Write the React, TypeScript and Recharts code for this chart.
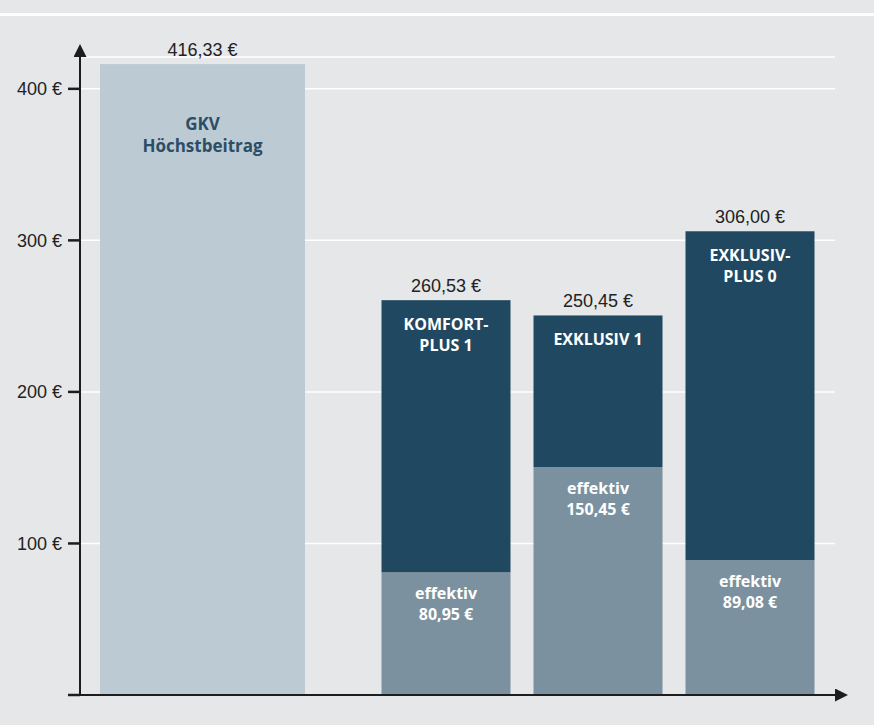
import React from 'react'
import { BarChart, Bar, XAxis, YAxis, CartesianGrid } from 'recharts'

// Kategorien und Werte (Monatsbeiträge in Euro)
const categories = ['GKV Höchstbeitrag', 'KOMFORT-PLUS 1', 'EXKLUSIV 1', 'EXKLUSIV-PLUS 0']
const groups = ['gkv', 'tarif', 'tarif', 'tarif']
const barTitles = [['GKV', 'Höchstbeitrag'], ['KOMFORT-', 'PLUS 1'], ['EXKLUSIV 1'], ['EXKLUSIV-', 'PLUS 0']]
const gkvValues: (number | null)[] = [416.33, null, null, null]
const totalValues: (number | null)[] = [null, 260.53, 250.45, 306.0]
const effektivValues: (number | null)[] = [null, 80.95, 150.45, 89.08]
const yTicks = [0, 100, 200, 300, 400]

const BG = '#e6e7e9'
const GKV_COLOR = '#bccad3'
const EFF_COLOR = '#7b91a0'
const TOP_COLOR = '#214861'
const LABEL_FONT = '"Open Sans", "DejaVu Sans", sans-serif'
const VALUE_FONT = '"Liberation Sans", Arial, sans-serif'

const fmt = (v: number) => v.toFixed(2).replace('.', ',') + ' €'

const chartData = categories.map((name, i) => ({
  name,
  group: groups[i],
  gkv: gkvValues[i],
  eff: effektivValues[i],
  rest: totalValues[i] != null && effektivValues[i] != null ? (totalValues[i] as number) - (effektivValues[i] as number) : null,
}))

const idxOf = (props: any) => categories.indexOf(props.payload?.name)

function GkvShape(props: any) {
  const { x, y, width, height } = props
  const i = idxOf(props)
  if (i < 0 || gkvValues[i] == null || !height) return null
  const cx = x + width / 2
  return (
    <g>
      <rect x={x} y={y} width={width} height={height} fill={GKV_COLOR} />
      <text x={cx} y={y - 8} textAnchor="middle" fontSize={18} fill="#222" fontFamily={VALUE_FONT}>
        {fmt(gkvValues[i] as number)}
      </text>
      {barTitles[i].map((t, k) => (
        <text key={k} x={cx} y={y + 66 + k * 22} textAnchor="middle" fontSize={17} fontWeight={700} fill="#2c4d66" fontFamily={LABEL_FONT}>
          {t}
        </text>
      ))}
    </g>
  )
}

function EffShape(props: any) {
  const { x, y, width, height } = props
  const i = idxOf(props)
  if (i < 0 || effektivValues[i] == null || !height) return null
  const cx = x + width / 2
  return (
    <g>
      <rect x={x} y={y} width={width} height={height} fill={EFF_COLOR} />
      <text x={cx} y={y + 27} textAnchor="middle" fontSize={16} fontWeight={700} fill="#fff" fontFamily={LABEL_FONT}>
        effektiv
      </text>
      <text x={cx} y={y + 48} textAnchor="middle" fontSize={16} fontWeight={700} fill="#fff" fontFamily={LABEL_FONT}>
        {fmt(effektivValues[i] as number)}
      </text>
    </g>
  )
}

function TopShape(props: any) {
  const { x, y, width, height } = props
  const i = idxOf(props)
  if (i < 0 || totalValues[i] == null || !height) return null
  const cx = x + width / 2
  return (
    <g>
      <rect x={x} y={y} width={width} height={height} fill={TOP_COLOR} />
      <text x={cx} y={y - 8} textAnchor="middle" fontSize={18} fill="#222" fontFamily={VALUE_FONT}>
        {fmt(totalValues[i] as number)}
      </text>
      {barTitles[i].map((t, k) => (
        <text key={k} x={cx} y={y + 30 + k * 21} textAnchor="middle" fontSize={16} fontWeight={700} fill="#fff" fontFamily={LABEL_FONT}>
          {t}
        </text>
      ))}
    </g>
  )
}

export default function App() {
  return (
    <div style={{ position: 'absolute', left: 0, top: 0, width: 874, height: 725, background: BG, overflow: 'hidden' }}>
      {/* Pfeilspitzen für die Achsen */}
      <svg width={0} height={0} style={{ position: 'absolute' }}>
        <defs>
          <marker id="arrowHead" viewBox="0 0 10 10" refX={0} refY={5} markerWidth={17} markerHeight={13} markerUnits="userSpaceOnUse" orient="auto-start-reverse">
            <path d="M0,0 L10,5 L0,10 z" fill="#1d1d1d" />
          </marker>
        </defs>
      </svg>
      <div style={{ position: 'absolute', left: 0, top: 13, width: 874, height: 2.5, background: '#fff' }} />
      <div style={{ position: 'absolute', left: 0, top: 0 }}>
        <BarChart
          width={874}
          height={725}
          data={chartData}
          margin={{ top: 57, right: 39, bottom: 0, left: 0 }}
          barCategoryGap={0}
          barGap={0}
        >
          <CartesianGrid xAxisId="b" vertical={false} stroke="#ffffff" strokeWidth={1.5} />
          <XAxis
            xAxisId="a"
            dataKey="group"
            type="category"
            orientation="top"
            allowDuplicatedCategory={false}
            padding={{ left: 20, right: 325 }}
            height={0}
            hide
          />
          <XAxis
            xAxisId="b"
            dataKey="name"
            type="category"
            padding={{ left: 137.5, right: 9.5 }}
            height={30}
            tick={false}
            tickLine={false}
            axisLine={{ stroke: '#1d1d1d', strokeWidth: 2, markerEnd: 'url(#arrowHead)' }}
          />
          <YAxis
            width={80}
            domain={[0, 421]}
            ticks={yTicks}
            interval={0}
            tickSize={12}
            tickMargin={6}
            tickFormatter={(v: number) => (v === 0 ? '' : `${v} €`)}
            tick={{ fontSize: 18, fill: '#222', fontFamily: VALUE_FONT }}
            tickLine={{ stroke: '#1d1d1d', strokeWidth: 2.5 }}
            axisLine={{ stroke: '#1d1d1d', strokeWidth: 2, markerStart: 'url(#arrowHead)' }}
          />
          <Bar xAxisId="a" dataKey="gkv" fill={GKV_COLOR} shape={GkvShape} isAnimationActive={false} />
          <Bar xAxisId="b" dataKey="eff" stackId="t" barSize={129} fill={EFF_COLOR} shape={EffShape} isAnimationActive={false} />
          <Bar xAxisId="b" dataKey="rest" stackId="t" barSize={129} fill={TOP_COLOR} shape={TopShape} isAnimationActive={false} />
        </BarChart>
      </div>
    </div>
  )
}
